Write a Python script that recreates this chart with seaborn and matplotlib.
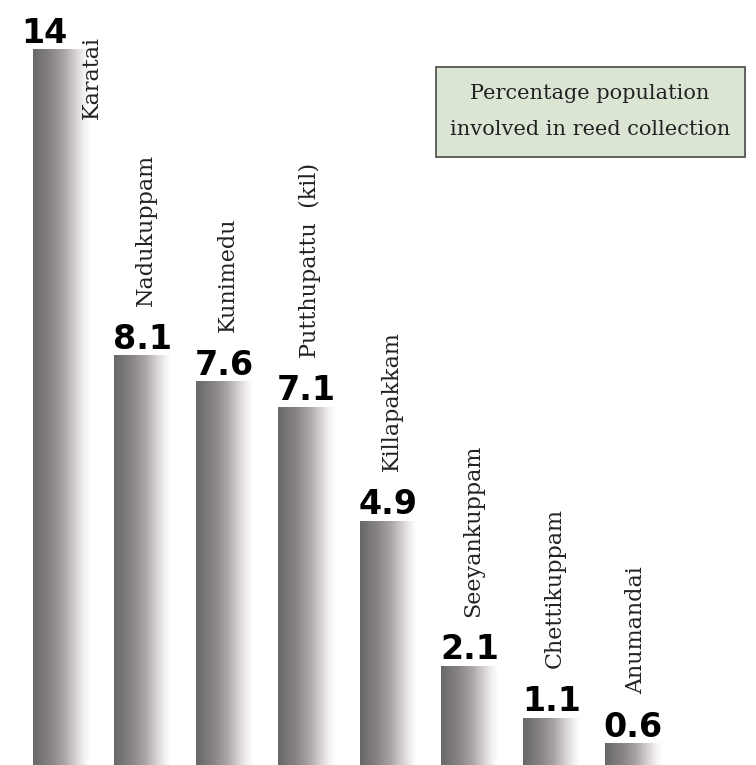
import numpy as np
import matplotlib
matplotlib.use("Agg")
import matplotlib.pyplot as plt
from matplotlib.colors import LinearSegmentedColormap
from matplotlib.patches import Rectangle
import seaborn as sns
import pandas as pd

# ---- data ----
villages = ["Karatai", "Nadukuppam", "Kunimedu", "Putthupattu  (kil)",
            "Killapakkam", "Seeyankuppam", "Chettikuppam", "Anumandai"]
values = [14, 8.1, 7.6, 7.1, 4.9, 2.1, 1.1, 0.6]
value_labels = ["14", "8.1", "7.6", "7.1", "4.9", "2.1", "1.1", "0.6"]
legend_lines = ["Percentage population", "involved in reed collection"]

sns.set_theme(style="white")
plt.rcParams['font.family'] = ['DejaVu Sans']

W, H = 756, 765
fig = plt.figure(figsize=(W / 100, H / 100), dpi=100)
ax = fig.add_axes([0, 0, 1, 1])

px_per_x = 81.7
x0_px = 61.2
px_per_y = 51.8
base_px = 774.5
xlim = (-x0_px / px_per_x, (W - x0_px) / px_per_x)
ylim = ((base_px - H) / px_per_y, base_px / px_per_y)

df = pd.DataFrame({"village": villages, "value": values})
sns.barplot(data=df, x="village", y="value", order=villages, ax=ax,
            width=57 / px_per_x, color="#888888", saturation=1, edgecolor="none")

cmap = LinearSegmentedColormap.from_list(
    "bargrad",
    [(0.0, "#686868"), (0.3, "#878383"), (0.55, "#aba5a5"),
     (0.75, "#d6d2d4"), (0.9, "#f3f1f3"), (1.0, "#ffffff")])
grad = np.linspace(0, 1, 256).reshape(1, -1)

for patch in ax.patches:
    x = patch.get_x()
    w = patch.get_width()
    h = patch.get_height()
    patch.set_facecolor("none")
    im = ax.imshow(grad, extent=[x, x + w, 0, h], aspect="auto",
                   cmap=cmap, origin="lower", zorder=2, interpolation="bilinear")
    im.set_clip_path(patch)

ax.set_xlim(*xlim)
ax.set_ylim(*ylim)
ax.set_axis_off()

# value labels
for i, (v, lab) in enumerate(zip(values, value_labels)):
    dx = -0.2 if i == 0 else 0.0
    ax.annotate(lab, xy=(i + dx, v), xytext=(0, 4.5), textcoords="offset points",
                ha="center", va="baseline", fontsize=24,
                fontfamily=["DejaVu Sans"], fontweight="bold",
                color="black", zorder=5)

# village names (rotated)
for i, (name, v) in enumerate(zip(villages, values)):
    if i == 0:
        xp, yp = i + 0.37, v - 1.35
    else:
        xp, yp = i + 0.04, v + 0.95
    ax.text(xp, yp, name, rotation=90, rotation_mode="anchor",
            ha="left", va="center", fontsize=16,
            fontfamily=["DejaVu Serif"], color="#222222", zorder=5)

# legend box
bx0, by0, bx1, by1 = 436, 67, 745, 157
fig.patches.append(Rectangle((bx0 / W, 1 - by1 / H), (bx1 - bx0) / W, (by1 - by0) / H,
                             transform=fig.transFigure, facecolor="#dae5d3",
                             edgecolor="#555555", linewidth=1.3, zorder=1))
fig.text(590 / W, 1 - 99 / H, legend_lines[0], ha="center", va="baseline",
         fontsize=15, fontfamily=["DejaVu Serif"], color="#222222", zorder=3)
fig.text(590 / W, 1 - 135 / H, legend_lines[1], ha="center", va="baseline",
         fontsize=15, fontfamily=["DejaVu Serif"], color="#222222", zorder=3)

fig.savefig("out.png", dpi=100, facecolor="white")
